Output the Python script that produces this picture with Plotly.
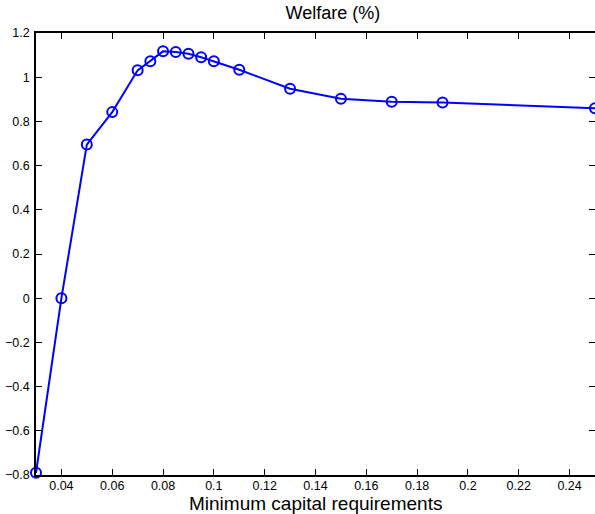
import plotly.graph_objects as go

capital_req = [0.03, 0.04, 0.05, 0.06, 0.07, 0.075, 0.08, 0.085, 0.09, 0.095, 0.10, 0.11, 0.13, 0.15, 0.17, 0.19, 0.25]
welfare = [-0.79, 0.0, 0.695, 0.842, 1.031, 1.072, 1.117, 1.114, 1.106, 1.090, 1.072, 1.034, 0.948, 0.903, 0.889, 0.885, 0.860]

x_ticks = [0.04, 0.06, 0.08, 0.1, 0.12, 0.14, 0.16, 0.18, 0.2, 0.22, 0.24]
x_tick_labels = ["0.04", "0.06", "0.08", "0.1", "0.12", "0.14", "0.16", "0.18", "0.2", "0.22", "0.24"]
y_ticks = [-0.8, -0.6, -0.4, -0.2, 0, 0.2, 0.4, 0.6, 0.8, 1, 1.2]
y_tick_labels = ["\u22120.8", "\u22120.6", "\u22120.4", "\u22120.2", "0", "0.2", "0.4", "0.6", "0.8", "1", "1.2"]

FONT = "Liberation Sans, Arial, sans-serif"

fig = go.Figure()
fig.add_trace(go.Scatter(
    x=capital_req, y=welfare, mode="lines+markers",
    line=dict(color="#0000FF", width=2),
    marker=dict(symbol="circle-open", size=10, color="#0000FF", line=dict(width=2, color="#0000FF")),
    cliponaxis=False,
))

axis_common = dict(
    showline=True, linecolor="black", linewidth=1.5, mirror="ticks",
    ticks="inside", ticklen=6, tickcolor="black", tickwidth=1,
    showgrid=False, zeroline=False, automargin=False,
    tickfont=dict(family=FONT, size=12.5, color="black"),
)

fig.update_layout(
    width=595, height=514,
    margin=dict(l=36, r=0, t=33, b=39),
    paper_bgcolor="white", plot_bgcolor="white",
    showlegend=False,
    title=dict(text="Welfare (%)", x=(316 / 595), xanchor="center", y=1 - 13 / 514, yanchor="middle",
               xref="paper",
               font=dict(family=FONT, size=18, color="black")),
    xaxis=dict(range=[0.03, 0.25], tickvals=x_ticks, ticktext=x_tick_labels, ticklabelstandoff=-2,
               **axis_common),
    yaxis=dict(range=[-0.8, 1.2], tickvals=y_ticks, ticktext=y_tick_labels, ticklabelstandoff=2,
               **axis_common),
    annotations=[dict(text="Minimum capital requirements", xref="paper", yref="paper",
                      x=0.5, y=-28 / 442, xanchor="center", yanchor="middle", showarrow=False,
                      font=dict(family=FONT, size=19, color="black"))],
)

fig.write_html("out.html", config={"displayModeBar": False},
               post_script="document.body.style.margin='0';document.body.style.overflow='hidden';")
